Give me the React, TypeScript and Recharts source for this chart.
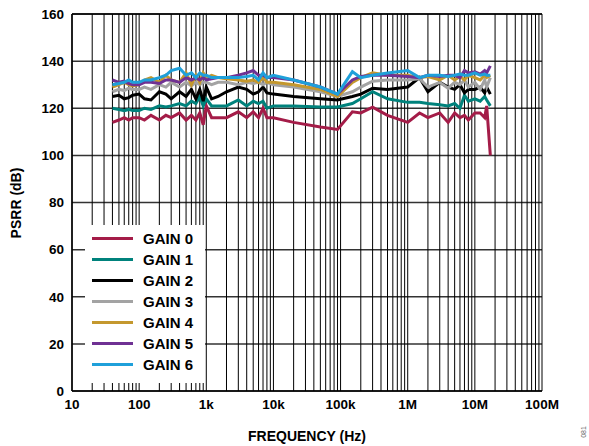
import { LineChart, Line, XAxis, YAxis, CartesianGrid, ReferenceLine } from "recharts";

const FREQS = [
  40, 50, 60, 70, 80,
  100, 120, 150, 200, 250, 300, 400, 500, 600, 700, 800, 900,
  1e3, 1.2e3, 1.5e3, 2e3, 3e3, 4e3, 5e3, 6e3, 7e3, 8e3,
  1e4, 2e4, 5e4, 9e4,
  1.5e5, 2e5, 3e5, 5e5,
  1e6, 1.5e6, 2e6, 3e6, 4e6, 5e6, 6e6, 7e6, 8e6,
  1e7, 1.2e7, 1.4e7, 1.5e7, 1.7e7,
];

const GAIN0 = [
  114, 115, 116, 115, 116,
  116, 115, 117, 115, 117, 116, 118, 115, 117, 115, 118, 113,
  121, 116, 116, 116, 118.5, 116, 118.5, 116, 120, 116,
  116, 114, 112, 111,
  118.5, 118, 120.5, 117,
  114, 118, 116, 118, 114, 118, 116, 117, 115,
  118, 118, 116, 121, 100,
];
const GAIN1 = [
  120, 119.5, 119, 119.5, 119,
  119, 120, 119.5, 121, 120.5, 121, 122, 121, 123, 122, 125, 121,
  124, 121, 121, 121, 123.5, 121, 123, 122, 123, 120,
  121, 121, 120.5, 120.5,
  122, 124, 127, 124,
  122.5, 122.5, 122, 121.5, 121, 122, 120, 125.5, 123,
  124, 123, 125, 123.5, 121,
];
const GAIN2 = [
  125, 125.5, 124, 124.5, 125.5,
  126, 124, 123.5, 127, 126, 124, 127, 125, 128, 124, 128, 123,
  129, 124, 125, 127, 129, 128, 126, 127, 129, 126.5,
  126, 125, 124, 123.5,
  125, 126, 128.5, 128,
  129, 133, 127, 131, 129, 128, 130, 126.5, 128,
  128, 129, 126.5, 129, 126,
];
const GAIN3 = [
  127, 128, 127.5, 128.5, 128,
  128, 129, 128, 130, 129, 131, 129, 131, 129.5, 131, 130, 131,
  131, 130, 131, 131, 130, 131, 130.5, 131, 130, 131,
  130, 129, 127, 125,
  127, 129, 131.5, 132,
  132, 132.5, 129, 131, 128.5, 131, 130, 132, 129,
  131, 128, 132, 129, 133,
];
const GAIN4 = [
  129, 130, 131, 130, 129.5,
  130, 132, 133, 131, 134, 132, 131, 135, 130, 134, 131, 135,
  133, 134, 133, 132.5, 132, 131.5, 132, 131, 133, 131,
  131, 130, 128, 125,
  131, 133, 135, 134,
  134, 133, 133.5, 132, 134, 132, 133.5, 132, 134,
  133, 132, 134, 133, 134,
];
const GAIN5 = [
  132, 131, 131.5, 130.5, 130,
  130, 131, 131, 130.5, 132, 132, 131, 133, 132, 133, 132, 133,
  132, 132.5, 133, 133, 134, 135, 136, 134, 134, 133,
  133, 132, 129, 126,
  132, 133.5, 134, 134,
  133.5, 133, 134, 133.5, 134, 134, 133, 136, 135,
  135.5, 134.5, 136, 135, 138,
];
const GAIN6 = [
  130, 130.5, 131, 132, 131,
  131, 132, 132, 133, 134, 136, 137, 134, 135, 133, 135, 134,
  134, 133, 133, 133, 133, 133.5, 134, 132, 135, 133,
  134, 132, 129, 126,
  135.5, 133, 134, 135,
  136, 133, 134, 134, 133.5, 134, 134.5, 134, 134,
  135, 134, 134.5, 134, 134,
];

const SERIES = [
  { name: "GAIN 0", values: GAIN0, color: "#a41c48" },
  { name: "GAIN 1", values: GAIN1, color: "#00827c" },
  { name: "GAIN 2", values: GAIN2, color: "#000000" },
  { name: "GAIN 3", values: GAIN3, color: "#a3a3a3" },
  { name: "GAIN 4", values: GAIN4, color: "#c4982e" },
  { name: "GAIN 5", values: GAIN5, color: "#6f3193" },
  { name: "GAIN 6", values: GAIN6, color: "#1fa0da" },
];

const X_TICKS = [10, 100, 1e3, 1e4, 1e5, 1e6, 1e7, 1e8];
const X_LABELS = ["10", "100", "1k", "10k", "100k", "1M", "10M", "100M"];
const Y_TICKS = [0, 20, 40, 60, 80, 100, 120, 140, 160];

// log grid: 1..9 of every decade, plus the last decade line
const MINOR: number[] = [];
for (let d = 10; d < 1e8; d *= 10) {
  for (let m = 1; m <= 9; m++) MINOR.push(d * m);
}
MINOR.push(1e8);

const FONT = "'Liberation Sans', Arial, sans-serif";

export default function App() {
  const tickStyle = { fontSize: 13.5, fontWeight: "bold", fill: "#000", fontFamily: FONT };

  return (
    <div style={{ position: "absolute", left: 0, top: 0, width: 589, height: 446, background: "#fff", fontFamily: FONT }}>
      <LineChart width={589} height={446} margin={{ top: 14, right: 47, bottom: 35, left: 12 }}>
        <CartesianGrid vertical={false} stroke="#333" strokeWidth={1.5} />
        <XAxis
          type="number"
          dataKey="f"
          scale="log"
          domain={[10, 1e8]}
          ticks={X_TICKS}
          tickFormatter={(v) => X_LABELS[X_TICKS.indexOf(v)] ?? ""}
          tick={tickStyle}
          tickLine={false}
          axisLine={{ stroke: "#000", strokeWidth: 1.5 }}
          height={20}
          allowDataOverflow
          interval={0}
        />
        <YAxis
          type="number"
          domain={[0, 160]}
          ticks={Y_TICKS}
          tick={tickStyle}
          tickLine={false}
          axisLine={{ stroke: "#000", strokeWidth: 1.5 }}
          width={60}
          interval={0}
        />
        {MINOR.map((v) => (
          <ReferenceLine key={v} x={v} stroke="#000" strokeWidth={1} />
        ))}
        <ReferenceLine y={160} stroke="#000" strokeWidth={1.5} />
        {SERIES.map((s) => (
          <Line
            key={s.name}
            data={FREQS.map((f, i) => ({ f, v: s.values[i] }))}
            dataKey="v"
            name={s.name}
            stroke={s.color}
            strokeWidth={3}
            dot={false}
            type="linear"
            isAnimationActive={false}
          />
        ))}
      </LineChart>

      <div
        style={{
          position: "absolute", left: 85, top: 225, width: 120, height: 158,
          background: "#fff",
        }}
      >
        {SERIES.map((s, i) => (
          <div key={s.name} style={{ position: "absolute", left: 0, top: 3 + i * 21, height: 20, display: "flex", alignItems: "center" }}>
            <span style={{ display: "inline-block", marginLeft: 7, width: 41, height: 3, background: s.color }} />
            <span style={{ marginLeft: 10, fontSize: 15, fontWeight: "bold", color: "#000", whiteSpace: "nowrap" }}>{s.name}</span>
          </div>
        ))}
      </div>

      <div
        style={{
          position: "absolute", left: 16, top: 203, transform: "translate(-50%, -50%) rotate(-90deg)",
          fontSize: 14, fontWeight: "bold", whiteSpace: "nowrap",
        }}
      >
        PSRR (dB)
      </div>
      <div
        style={{
          position: "absolute", left: 307, top: 436, transform: "translate(-50%, -50%)",
          fontSize: 14, fontWeight: "bold", whiteSpace: "nowrap",
        }}
      >
        FREQUENCY (Hz)
      </div>
      <div
        style={{
          position: "absolute", left: 583, top: 432, transform: "translate(-50%, -50%) rotate(-90deg)",
          fontSize: 7, color: "#666", whiteSpace: "nowrap",
        }}
      >
        081
      </div>
    </div>
  );
}
